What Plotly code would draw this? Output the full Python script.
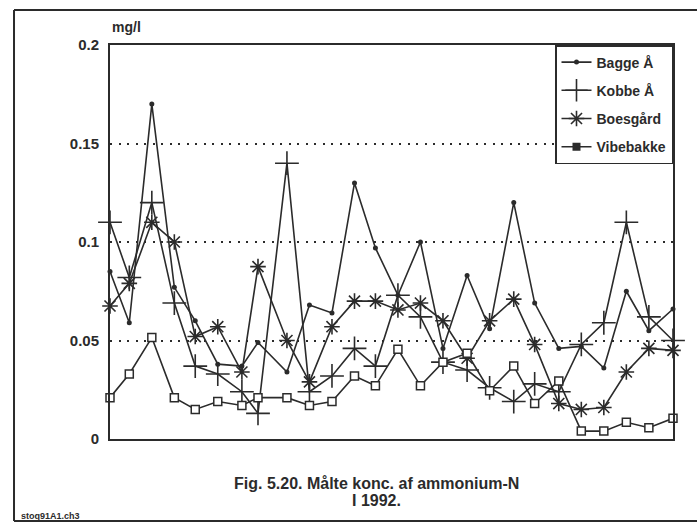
import plotly.graph_objects as go

# sampling days in 1992 (day of year)
sample_day = [8, 20, 34, 48, 61, 75, 90, 100, 118, 132, 146, 160, 173,
              187, 201, 215, 230, 244, 259, 272, 287, 301, 315, 329, 343, 358]

# ammonium-N, mg/l
bagge = [0.085, 0.059, 0.170, 0.077, 0.060, 0.038, 0.037, 0.049, 0.034, 0.068,
         0.064, 0.130, 0.097, 0.073, 0.100, 0.046, 0.083, 0.056, 0.120, 0.069,
         0.046, 0.047, 0.036, 0.075, 0.055, 0.066]
kobbe = [0.110, 0.082, 0.120, 0.069, 0.037, 0.033, 0.024, 0.013, 0.140, 0.024,
         0.032, 0.046, 0.037, 0.073, 0.062, 0.039, 0.035, 0.026, 0.019, 0.028,
         0.024, 0.048, 0.059, 0.110, 0.062, 0.050]
boesgaard = [0.0675, 0.079, 0.110, 0.100, 0.052, 0.057, 0.034, 0.0875, 0.050, 0.029,
             0.057, 0.070, 0.070, 0.0655, 0.069, 0.060, 0.041, 0.060, 0.071, 0.048,
             0.018, 0.015, 0.016, 0.034, 0.046, 0.045]
vibebakke = [0.021, 0.033, 0.0515, 0.021, 0.015, 0.019, 0.017, 0.021, 0.021, 0.017,
             0.019, 0.032, 0.027, 0.0455, 0.027, 0.039, 0.0435, 0.0245, 0.037, 0.018,
             0.0295, 0.004, 0.004, 0.0085, 0.0057, 0.0105]

y_ticks = [0, 0.05, 0.1, 0.15, 0.2]
y_labels = ['0', '0.05', '0.1', '0.15', '0.2']

INK = '#2b2b2b'
FONT = 'Liberation Sans, Arial, sans-serif'

fig = go.Figure()

fig.add_trace(go.Scatter(x=sample_day, y=bagge, name='<b>Bagge Å</b>', mode='lines+markers',
                         legendgroup='a', cliponaxis=False,
                         line=dict(color=INK, width=1.6),
                         marker=dict(symbol='circle', size=5, color=INK)))
fig.add_trace(go.Scatter(x=sample_day, y=kobbe, name='<b>Kobbe Å</b>', mode='lines+markers',
                         legendgroup='b', cliponaxis=False,
                         line=dict(color=INK, width=1.6),
                         marker=dict(symbol='cross-thin', size=17, color=INK,
                                     line=dict(color=INK, width=1.6))))
fig.add_trace(go.Scatter(x=sample_day, y=boesgaard, name='<b>Boesgård</b>', mode='lines+markers',
                         legendgroup='c', cliponaxis=False,
                         line=dict(color=INK, width=1.6),
                         marker=dict(symbol='asterisk', size=13, color=INK,
                                     line=dict(color=INK, width=1.6))))
fig.add_trace(go.Scatter(x=sample_day, y=vibebakke, name='Vibebakke', mode='lines+markers',
                         showlegend=False, cliponaxis=False,
                         line=dict(color=INK, width=1.6),
                         marker=dict(symbol='square', size=8, color='white',
                                     line=dict(color=INK, width=1.5))))
# legend entry for Vibebakke (filled square in the original key)
fig.add_trace(go.Scatter(x=[None], y=[None], name='<b>Vibebakke</b>', mode='lines+markers',
                         legendgroup='d',
                         line=dict(color=INK, width=1.6),
                         marker=dict(symbol='square', size=8, color=INK)))

fig.update_xaxes(range=[sample_day[0], sample_day[-1]], showticklabels=False, showgrid=False,
                 zeroline=False, showline=True, linecolor=INK, linewidth=2, mirror=True)
fig.update_yaxes(range=[0, 0.2], tickvals=y_ticks, ticktext=[f'<b>{t}</b>' for t in y_labels],
                 showgrid=True, gridcolor=INK, gridwidth=1.5, griddash='2px,6.5px',
                 zeroline=False, showline=True, linecolor=INK, linewidth=2, mirror=True,
                 ticklabelstandoff=6, tickfont=dict(size=15, color=INK))

fig.update_layout(
    width=697, height=525,
    margin=dict(l=110, r=24, t=45, b=86),
    paper_bgcolor='white', plot_bgcolor='white',
    font=dict(family=FONT, color=INK),
    legend=dict(x=1, y=1, xanchor='right', yanchor='top', bgcolor='white',
                bordercolor=INK, borderwidth=1.5, font=dict(size=14, color=INK),
                itemwidth=30, tracegroupgap=7),
)

fig.add_annotation(xref='paper', yref='paper', x=0, y=1.046, xanchor='left', yanchor='middle',
                   text='<b>mg/l</b>', showarrow=False, font=dict(size=14, color=INK))
fig.add_annotation(xref='paper', yref='paper', x=0.474, y=-0.112, xanchor='center', yanchor='middle',
                   text='<b>Fig. 5.20. Målte konc. af ammonium-N</b>', showarrow=False,
                   font=dict(size=16, color=INK))
fig.add_annotation(xref='paper', yref='paper', x=0.474, y=-0.157, xanchor='center', yanchor='middle',
                   text='<b>I 1992.</b>', showarrow=False, font=dict(size=16, color=INK))
fig.add_annotation(xref='paper', yref='paper', x=-0.161, y=-0.195, xanchor='left', yanchor='middle',
                   text='<b>stoq91A1.ch3</b>', showarrow=False, font=dict(size=9, color=INK))

# outer frame of the scanned page
frame = dict(type='line', xref='paper', yref='paper', line=dict(color=INK, width=2))
fig.add_shape(x0=-0.1705, x1=-0.1705, y0=1.089, y1=-0.208, **frame)
fig.add_shape(x0=-0.1705, x1=1.043, y0=1.089, y1=1.089, **frame)
fig.add_shape(x0=-0.1705, x1=1.043, y0=-0.208, y1=-0.208, **frame)

fig.write_html("out.html", config={'displayModeBar': False},
               post_script="document.body.style.margin='0px';")
